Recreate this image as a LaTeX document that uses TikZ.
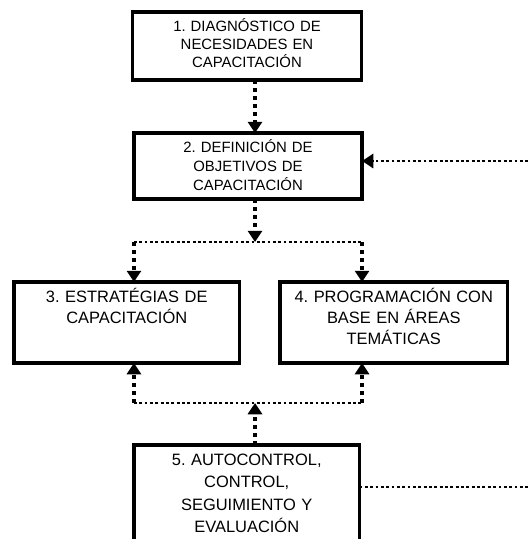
\documentclass[tikz,border=0pt]{standalone}
\usepackage{fontspec}
\setmainfont{Liberation Sans}
\usetikzlibrary{arrows.meta}
\frenchspacing

\begin{document}
\begin{tikzpicture}[x=0.025cm,y=-0.025cm,
	smallbox/.style={draw=black,line width=2.4pt,inner sep=0pt,outer sep=0pt,
		align=center,anchor=north,font=\fontsize{10.6}{12.9}\selectfont},
	bigbox/.style={smallbox,font=\fontsize{11.7}{15.2}\selectfont},
	dots/.style={line width=2.6pt,dash pattern=on 2.8pt off 2.9pt},
	finedots/.style={line width=2pt,dash pattern=on 2pt off 1.8pt},
	tip/.style={-{Triangle[width=10pt,length=8pt]}}]

	\useasboundingbox (0,0) rectangle (528,539);
	\clip (0,0) rectangle (528,539);

	\node[smallbox,text width=5.725cm,text height=0.475cm,text depth=1.225cm] (d1) at (247, 12)
		{1. DIAGNÓSTICO DE\\NECESIDADES EN\\CAPACITACIÓN};
	\node[smallbox,text width=5.7cm,text height=0.475cm,text depth=1.175cm,
		font=\fontsize{10.6}{13.8}\selectfont] (d2) at (248, 133)
		{2. DEFINICIÓN DE\\OBJETIVOS DE\\CAPACITACIÓN};
	\node[bigbox,text width=5.64cm,text height=0.5cm,text depth=1.525cm] (d3) at (126.75, 282)
		{3. ESTRATÉGIAS DE\\CAPACITACIÓN};
	\node[bigbox,text width=5.69cm,text height=0.5cm,text depth=1.525cm] (d4) at (393.75, 282)
		{4. PROGRAMACIÓN CON\\BASE EN ÁREAS\\TEMÁTICAS};
	\node[bigbox,text width=5.64cm,text height=0.5cm,text depth=2.875cm,
		font=\fontsize{11.7}{16}\selectfont] (d5) at (246.75, 445)
		{5. AUTOCONTROL,\\CONTROL,\\SEGUIMIENTO Y\\EVALUACIÓN};

	% branch points and the loose ends at the right margin
	\coordinate (split) at (255, 242);
	\coordinate (merge) at (255, 403);
	\coordinate (back) at (528, 161);
	\coordinate (out) at (528, 487);

	\draw[dots,tip] (d1.south -| split) -- (d2.north -| split);
	\draw[dots,tip] (d2.south -| split) -- (split);
	\draw[finedots] (split -| d2.west) -- (split -| d2.east);
	\draw[dots,tip] (split -| d2.west) -- (d3.north -| d2.west);
	\draw[dots,tip] (split -| d2.east) -- (d4.north -| d2.east);

	\draw[dots,tip] (d5.north -| merge) -- (merge);
	\draw[finedots] (merge -| d2.west) -- (merge -| d2.east);
	\draw[dots,tip] (merge -| d2.west) -- (d3.south -| d2.west);
	\draw[dots,tip] (merge -| d2.east) -- (d4.south -| d2.east);

	\draw[finedots,tip] (back) -- (d2.east |- back);
	\draw[finedots] (d5.east |- out) -- (out);
\end{tikzpicture}
\end{document}
